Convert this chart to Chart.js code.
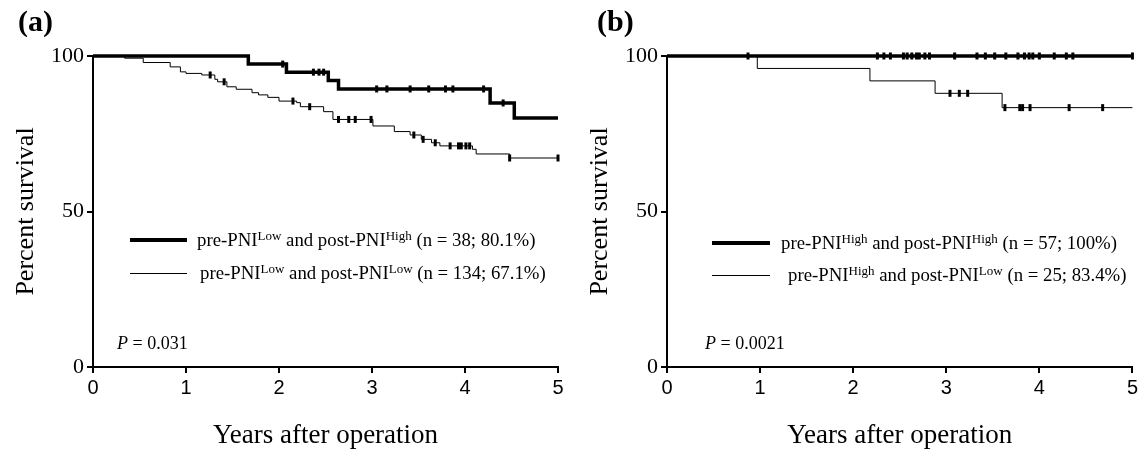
<!DOCTYPE html>
<html>
<head>
<meta charset="utf-8">
<script src="https://cdn.jsdelivr.net/npm/chart.js@4"></script>
<style>
  body { margin: 0; background: #fff; width: 1141px; height: 452px; position: relative; overflow: hidden; font-family: "Liberation Serif", "Times New Roman", serif; color: #000; }
  canvas { position: absolute; top: 0; }
  #chartA { left: 0; }
  #chartB { left: 574px; }
  .lbl { position: absolute; white-space: nowrap; line-height: 1; }
  .panel { font-weight: bold; font-size: 30px; }
  .leg { font-size: 18.8px; }
  .leg sup { font-size: 13px; vertical-align: 6px; line-height: 0; }
  .swatch { position: absolute; background: #000; }
  .pval { font-size: 18px; }
</style>
</head>
<body>
<canvas id="chartA" width="574" height="452"></canvas>
<canvas id="chartB" width="567" height="452"></canvas>

<div class="lbl panel" style="left:18px;top:6px;">(a)</div>
<div class="swatch" style="left:130px;top:238px;width:57px;height:4px;"></div>
<div class="lbl leg" style="left:197px;top:231px;">pre-PNI<sup>Low</sup> and post-PNI<sup>High</sup> (n = 38; 80.1%)</div>
<div class="swatch" style="left:130px;top:273px;width:57px;height:1px;"></div>
<div class="lbl leg" style="left:200px;top:264px;">pre-PNI<sup>Low</sup> and post-PNI<sup>Low</sup> (n = 134; 67.1%)</div>
<div class="lbl pval" style="left:117px;top:334px;"><i>P</i> = 0.031</div>

<div class="lbl panel" style="left:597px;top:6px;">(b)</div>
<div class="swatch" style="left:712px;top:241px;width:58px;height:4px;"></div>
<div class="lbl leg" style="left:781px;top:234px;">pre-PNI<sup>High</sup> and post-PNI<sup>High</sup> (n = 57; 100%)</div>
<div class="swatch" style="left:712px;top:275px;width:58px;height:1px;"></div>
<div class="lbl leg" style="left:788px;top:266px;">pre-PNI<sup>High</sup> and post-PNI<sup>Low</sup> (n = 25; 83.4%)</div>
<div class="lbl pval" style="left:705px;top:334px;"><i>P</i> = 0.0021</div>

<script>
/* Kaplan-Meier curves: step times (years) and survival (%) */
var aHighTimes = [0, 1.67, 2.08, 2.53, 2.64, 4.27, 4.53, 5.0];
var aHighSurv  = [100, 97.4, 94.8, 92.1, 89.4, 84.9, 80.1, 80.1];
var aHighCensor = [2.04, 2.37, 2.43, 2.48, 3.05, 3.16, 3.41, 3.61, 3.79, 3.87, 4.20, 4.41];

var aLowTimes = [0, 0.34, 0.54, 0.83, 0.94, 1.00, 1.17, 1.31, 1.34, 1.44, 1.54, 1.71, 1.78, 1.88, 2.00, 2.19, 2.23, 2.48, 2.58, 3.01, 3.24, 3.41, 3.53, 3.64, 3.73, 4.08, 4.12, 4.48, 5.0];
var aLowSurv  = [100, 99.3, 97.9, 96.5, 94.9, 94.4, 93.9, 92.5, 91.7, 90.1, 89.3, 88.2, 87.5, 86.7, 85.5, 85.0, 83.7, 82.1, 79.6, 77.5, 75.7, 74.6, 73.2, 72.1, 71.1, 70.0, 68.5, 67.2, 67.2];
var aLowCensor = [1.26, 1.41, 2.15, 2.33, 2.64, 2.75, 2.82, 2.99, 3.45, 3.55, 3.68, 3.84, 3.93, 3.96, 4.01, 4.05, 4.48, 5.0];

var bHighTimes = [0, 5.0];
var bHighSurv  = [100, 100];
var bHighCensor = [0.87, 2.26, 2.33, 2.40, 2.54, 2.58, 2.63, 2.68, 2.71, 2.77, 2.82, 3.09, 3.33, 3.42, 3.52, 3.64, 3.77, 3.84, 3.89, 3.93, 4.00, 4.16, 4.29, 4.36, 5.0];

var bLowTimes = [0, 0.97, 2.18, 2.88, 3.60, 5.0];
var bLowSurv  = [100, 96.0, 92.0, 88.0, 83.4, 83.4];
var bLowCensor = [3.04, 3.14, 3.23, 3.63, 3.79, 3.82, 3.90, 4.32, 4.68];

var xTicks = [0, 1, 2, 3, 4, 5];
var yTicks = [0, 50, 100];

Chart.defaults.font.family = "'Liberation Serif', 'Times New Roman', serif";
Chart.defaults.color = "#000";

function survAt(times, surv, t) {
  var s = surv[0];
  for (var i = 0; i < times.length; i++) {
    if (times[i] <= t) s = surv[i];
  }
  return s;
}

function curve(times, surv, width) {
  return {
    data: times.map(function (t, i) { return { x: t, y: surv[i] }; }),
    borderColor: "#000",
    borderWidth: width,
    stepped: "before",
    pointRadius: 0,
    fill: false,
    clip: false,
    borderJoinStyle: "miter",
  };
}

function marks(times, surv, censor) {
  return {
    data: censor.map(function (t) { return { x: t, y: survAt(times, surv, t) }; }),
    showLine: false,
    pointStyle: "line",
    rotation: 90,
    pointRadius: 3.5,
    pointBorderWidth: 3,
    borderColor: "#000",
    pointBorderColor: "#000",
    clip: false,
  };
}

function axisGrid() {
  return { drawOnChartArea: false, color: "#000", lineWidth: 2, tickLength: 6, tickWidth: 2 };
}

function buildPanel(el, rightPad, datasets) {
  return new Chart(el, {
    type: "line",
    data: { datasets: datasets },
    options: {
      responsive: false,
      animation: false,
      layout: { padding: { top: 56, right: rightPad, left: 0, bottom: 0 } },
      plugins: { legend: { display: false }, tooltip: { enabled: false } },
      scales: {
        x: {
          type: "linear", min: 0, max: 5,
          afterBuildTicks: function (s) { s.ticks = xTicks.map(function (v) { return { value: v }; }); },
          ticks: { color: "#000", padding: 3, font: { family: "'Liberation Sans', Arial, sans-serif", size: 20 } },
          grid: axisGrid(),
          border: { color: "#000", width: 2 },
          title: { display: true, text: "Years after operation", color: "#000", font: { size: 27 }, padding: { top: 0, bottom: 0 } },
          afterFit: function (s) { s.height = 85; },
        },
        y: {
          type: "linear", min: 0, max: 100,
          afterBuildTicks: function (s) { s.ticks = yTicks.map(function (v) { return { value: v }; }); },
          ticks: { color: "#000", padding: 3, font: { size: 22 } },
          grid: axisGrid(),
          border: { color: "#000", width: 2 },
          title: { display: true, text: "Percent survival", color: "#000", font: { size: 26 }, padding: { top: 11, bottom: 0 } },
          afterFit: function (s) { s.width = 93; },
        },
      },
    },
  });
}

buildPanel(document.getElementById("chartA"), 16, [
  curve(aLowTimes, aLowSurv, 1),
  marks(aLowTimes, aLowSurv, aLowCensor),
  curve(aHighTimes, aHighSurv, 3.5),
  marks(aHighTimes, aHighSurv, aHighCensor),
]);

buildPanel(document.getElementById("chartB"), 8, [
  curve(bLowTimes, bLowSurv, 1),
  marks(bLowTimes, bLowSurv, bLowCensor),
  curve(bHighTimes, bHighSurv, 3.5),
  marks(bHighTimes, bHighSurv, bHighCensor),
]);
</script>
</body>
</html>
